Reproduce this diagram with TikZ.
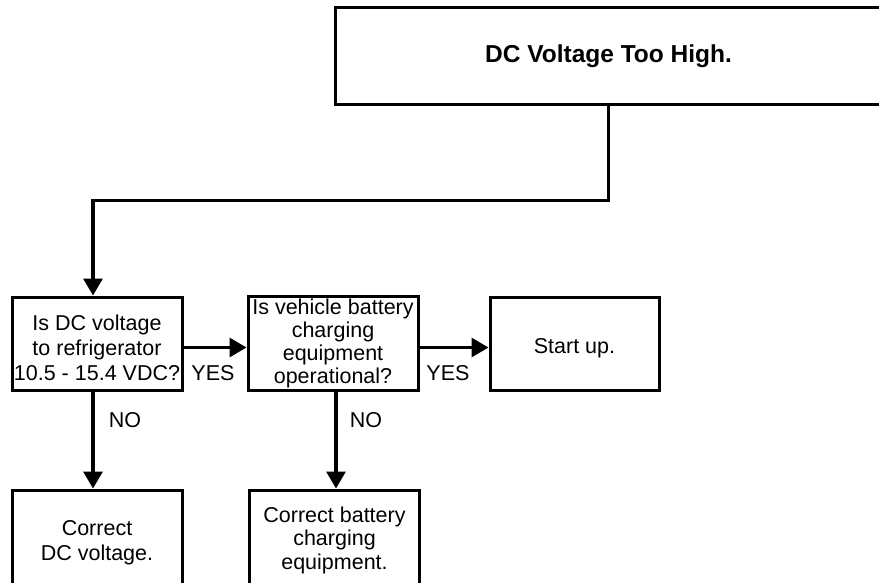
\documentclass[tikz,border=0pt]{standalone}
\usepackage{fontspec}
\setmainfont{Liberation Sans}
\usetikzlibrary{arrows.meta}
\begin{document}
\begin{tikzpicture}[x=1pt,y=-1pt,
  box/.style={draw=black, line width=3pt, fill=white, align=center, inner sep=2pt,
    font=\fontsize{21.5}{24}\selectfont},
  lbl/.style={font=\fontsize{21.5}{24}\selectfont, inner sep=0pt},
  inlbl/.style={font=\fontsize{21.5}{25}\selectfont, inner sep=0pt, align=center, yshift=-4pt},
  arr/.style={line width=3.2pt, -{Triangle[length=17pt,width=19pt]}}]
\clip (0,0) rectangle (879,583);
\fill[white] (0,0) rectangle (879,583);
\node[box, minimum width=547pt, minimum height=97pt, font=\fontsize{24.5}{27}\selectfont\bfseries] (top) at (608.5,56.5) {DC Voltage Too High.};
\node[box, minimum width=170pt, minimum height=93pt,
  label={[inlbl]center:Is DC voltage\\to refrigerator\\10.5 - 15.4 VDC?}] (b1) at (97,343.5) {};
\node[box, minimum width=170pt, minimum height=93pt, font=\fontsize{21.5}{23}\selectfont] (b2) at (333,343.5) {Is vehicle battery\\charging\\equipment\\operational?};
\node[box, minimum width=169pt, minimum height=93pt,
  label={[inlbl,yshift=-1pt]center:Start up.}] (b3) at (574.5,343.5) {};
\node[box, minimum width=170pt, minimum height=100pt,
  label={[inlbl,yshift=1pt]center:Correct\\DC voltage.}] (b4) at (97,540) {};
\node[box, minimum width=170pt, minimum height=100pt, font=\fontsize{21.5}{23.5}\selectfont] (b5) at (334.5,540) {Correct battery\\charging\\equipment.};
\node[lbl] (yes1) at (213,373) {YES};
\node[lbl] (yes2) at (448,373) {YES};
\node[lbl] (no1) at (125,420) {NO};
\node[lbl] (no2) at (366,420) {NO};
\coordinate (bend) at (608.5,200.5);
\draw[arr] (top.south) -- (bend) -| ([xshift=-4pt]b1.north);
\draw[arr] ([yshift=-4pt]b1.east) -- ([yshift=-4pt]b2.west);
\draw[arr] ([yshift=-4pt]b2.east) -- ([yshift=-4pt]b3.west);
\draw[arr] ([xshift=-4pt]b1.south) -- ([xshift=-4pt]b4.north);
\draw[arr] ([xshift=3pt]b2.south) -- ([xshift=3pt]b2.south |- b5.north);
\end{tikzpicture}
\end{document}
